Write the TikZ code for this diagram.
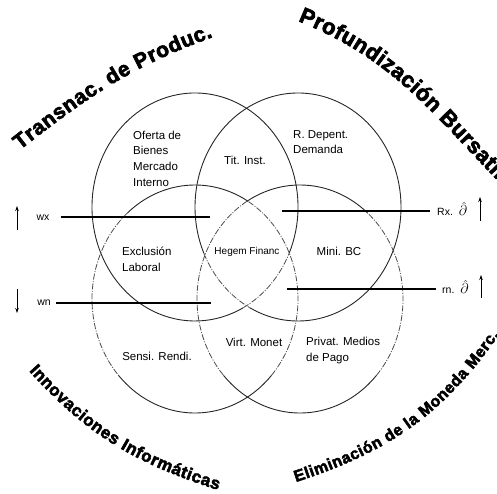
\documentclass[tikz,border=0pt]{standalone}
\usepackage{fontspec}
\setmainfont{Liberation Sans}
\newfontfamily\heavyfont[FakeBold=3]{Liberation Sans}
\usetikzlibrary{arrows.meta,decorations.text}

\begin{document}
\begin{tikzpicture}[
    x=1pt,
    y=1pt,
    rim/.style={line width=0.9pt, black!85},
    rimdash/.style={line width=0.8pt, black!70, dash pattern=on 6pt off 1.5pt on 1pt off 1.5pt},
    region/.style={font=\fontsize{11.5}{15.7}\selectfont, inner sep=0pt, align=left},
    level/.style={line width=1.4pt},
    rate/.style={font=\fontsize{10.5}{12}\selectfont, inner sep=1pt},
    tick/.style={line width=0.7pt, -{Stealth[length=5pt,width=3.5pt]}},
    arcword/.style={decorate, decoration={text along path, text align=fit to path, text={#1}}}
]
\useasboundingbox (0,0) rectangle (497,493);

% Ellipse centres
\coordinate (tl) at (195,286);
\coordinate (tr) at (298,286);
\coordinate (bl) at (195,194);
\coordinate (br) at (300,194);

% Rims, solid and worn parts
\foreach \c/\a/\b/\s in {tl/-24/298/rim, tl/-62/-24/rimdash,
                         tr/242/564/rim, tr/204/242/rimdash,
                         bl/59/131/rim, bl/131/222/rimdash, bl/222/318/rim, bl/318/419/rimdash,
                         br/49/121/rim, br/121/222/rimdash, br/222/318/rim, br/318/409/rimdash} {
  \draw[\s] (\c) ++(\a:103pt and 114pt) arc[start angle=\a, end angle=\b, x radius=103pt, y radius=114pt];
}

% Regions
\node[region, anchor=west] (ofer) at (133,334.5) {Oferta de\\Bienes\\Mercado\\Interno};
\node[region] (titinst) at (245,333) {Tit. Inst.};
\node[region, anchor=west] (rdep) at (293,351) {R. Depent.\\Demanda};
\node[region, anchor=west] (excl) at (122,234) {Exclusión\\Laboral};
\node[region, font=\fontsize{10}{12}\selectfont] (hegem) at (247,241) {Hegem Financ};
\node[region] (minibc) at (339,242) {Mini. BC};
\node[region] (sensi) at (157,137) {Sensi. Rendi.};
\node[region] (virt) at (254,151) {Virt. Monet};
\node[region, anchor=west] (privat) at (306,142.5) {Privat. Medios\\de Pago};

% Wages, left
\node[rate] (wx) at (43,275) {wx};
\coordinate (wxend) at (210,276);
\draw[level, shorten <=10pt] (wxend -| wx.east) -- (wxend);
\coordinate (wxlo) at (17,263);
\coordinate (wxhi) at (17,287);
\draw[tick] (wxlo) -- (wxhi);

\node[rate] (wn) at (44,190) {wn};
\coordinate (wnend) at (211,190);
\draw[level, shorten <=4pt] (wnend -| wn.east) -- (wnend);
\coordinate (wnhi) at (17,204);
\coordinate (wnlo) at (17,180);
\draw[tick] (wnhi) -- (wnlo);

% Rates, right
\node[rate, anchor=west] (rx) at (436,284) {Rx.\hspace{6pt}{\fontsize{15}{15}\selectfont$\hat{\partial}$}};
\coordinate (rxstart) at (282,282);
\draw[level, shorten >=6pt] (rxstart) -- (rxstart -| rx.west);
\coordinate (rxlo) at (480,272);
\coordinate (rxhi) at (480,296);
\draw[tick] (rxlo) -- (rxhi);

\node[rate, anchor=west] (rn) at (441,206) {rn.\hspace{6pt}{\fontsize{15}{15}\selectfont$\hat{\partial}$}};
\coordinate (rnstart) at (287,204);
\draw[level, shorten >=5pt] (rnstart) -- (rnstart -| rn.west);
\coordinate (rnlo) at (481,195);
\coordinate (rnhi) at (481,218);
\draw[tick] (rnlo) -- (rnhi);

% Forces round the diagram
\path[arcword={|\heavyfont\bfseries\fontsize{21}{21}\selectfont|Transnac. de Produc.}]
  (20,343) to[out=38,in=200] (213,456);
\path[arcword={|\heavyfont\bfseries\fontsize{22}{22}\selectfont|Profundización Bursatil}]
  (298,472) to[out=-22,in=134] (497,313);
\path[arcword={|\heavyfont\bfseries\fontsize{17}{17}\selectfont|Innovaciones Informáticas}]
  (29,122) to[out=-48,in=162] (218,3);
\path[arcword={|\heavyfont\bfseries\fontsize{16}{16}\selectfont|Eliminación de la Moneda Merc.}]
  (296,11) to[out=18,in=235] (499,158);
\end{tikzpicture}
\end{document}
